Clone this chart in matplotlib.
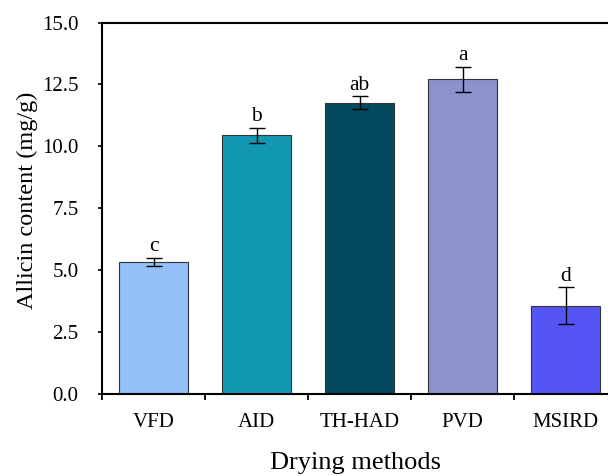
import matplotlib
matplotlib.use("Agg")
import matplotlib.pyplot as plt
import numpy as np

categories = ["VFD", "AID", "TH-HAD", "PVD", "MSIRD"]
values = [5.33, 10.45, 11.76, 12.70, 3.57]
errors = [0.18, 0.31, 0.26, 0.51, 0.74]
letters = ["c", "b", "ab", "a", "d"]
colors = ["#93C0F7", "#1197B1", "#044A5E", "#8B92CE", "#5555F4"]
yticks = [0.0, 2.5, 5.0, 7.5, 10.0, 12.5, 15.0]

plt.rcParams['font.family'] = ['Liberation Serif', 'DejaVu Serif']

W, H = 608, 476
fig = plt.figure(figsize=(W/100, H/100), dpi=100)
left, right, top, bottom = 102, 608, 22.5, 394
cat_px = 103.0
ax = fig.add_axes([left/W, (H-bottom)/H, (right-left)/W, (bottom-top)/H])

x = np.arange(len(categories))
ax.bar(x, values, width=0.665, color=colors, edgecolor="#333333", linewidth=0.8, zorder=2)
ax.errorbar(x, values, yerr=errors, fmt='none', ecolor='black', elinewidth=1.0,
            capsize=5.5, capthick=1.0, zorder=3)
for xi, v, e, t in zip(x, values, errors, letters):
    ax.annotate(t, (xi, v + e), xytext=(0, 1), textcoords='offset points',
                ha='center', va='bottom', fontsize=15.5)

ax.set_xlim(-0.5, -0.5 + (right - left) / cat_px)
ax.set_ylim(0, 15)
ax.set_yticks(yticks)
ax.set_yticklabels([f"{t:.1f}" for t in yticks], fontsize=15)
ax.set_xticks(x)
ax.set_xticklabels(categories, fontsize=15)
ax.set_xticks(np.arange(-0.5, 4.0, 1), minor=True)
ax.tick_params(axis='x', which='major', length=0, pad=14)
ax.tick_params(axis='x', which='minor', length=4.5, width=1.3, direction='out')
ax.tick_params(axis='y', which='major', length=3, width=1.2, direction='out', pad=14)

for s in ['left', 'bottom', 'top']:
    ax.spines[s].set_linewidth(1.5)
ax.spines['right'].set_visible(False)

ax.set_xlabel("Drying methods", fontsize=19)
ax.set_ylabel("Allicin content (mg/g)", fontsize=17.5)
ax.xaxis.set_label_coords((356 - left) / (right - left), (bottom - 452) / (bottom - top))
ax.yaxis.set_label_coords((38 - left) / (right - left), (bottom - 200) / (bottom - top))

fig.savefig("out.png", dpi=100)
